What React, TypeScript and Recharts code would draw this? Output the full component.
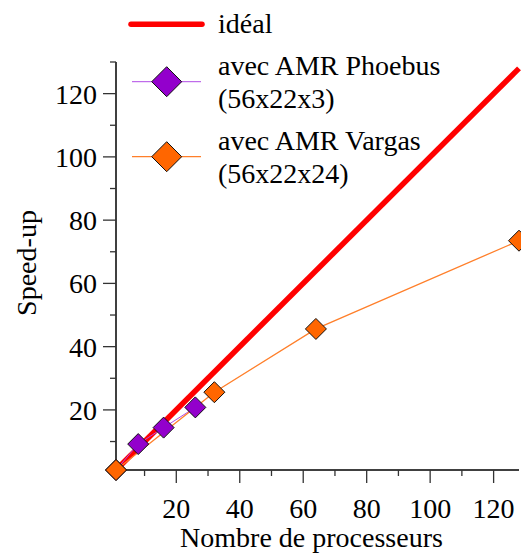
import { LineChart, Line, XAxis, YAxis, Legend } from 'recharts';

const FONT = '"Liberation Serif", "Times New Roman", serif';

// data
const idealProcs = [1, 128];
const idealSpeedup = [1, 128];
const phoebusProcs = [1, 8, 16, 26];
const phoebusSpeedup = [1, 9.2, 14.4, 20.8];
const vargasProcs = [1, 32, 64, 128];
const vargasSpeedup = [1, 25.6, 45.6, 73.5];

const xTicks = [10, 20, 30, 40, 50, 60, 70, 80, 90, 100, 110, 120];
const yTicks = [10, 20, 30, 40, 50, 60, 70, 80, 90, 100, 110, 120, 130];

const seriesLabels = [
  ['idéal'],
  ['avec AMR Phoebus', '(56x22x3)'],
  ['avec AMR Vargas', '(56x22x24)'],
];

const RED = '#ff0000';
const PURPLE = '#9300cc';
const PURPLE_LINE = '#b14be6';
const ORANGE = '#ff6600';
const ORANGE_LINE = '#ff7f2a';

const toPoints = (xs: number[], ys: number[]) => xs.map((x, i) => ({ x, y: ys[i] }));

const idealData = toPoints(idealProcs, idealSpeedup);
const phoebusData = toPoints(phoebusProcs, phoebusSpeedup);
const vargasData = toPoints(vargasProcs, vargasSpeedup);

const diamond = (cx: number, cy: number, r: number) =>
  `${cx},${cy - r} ${cx + r},${cy} ${cx},${cy + r} ${cx - r},${cy}`;

const makeDot = (fill: string) => (props: any) => {
  const { cx, cy, index } = props;
  if (cx == null || cy == null) return <g key={index} />;
  return (
    <polygon
      key={index}
      points={diamond(cx, cy, 10.5)}
      fill={fill}
      stroke="#111"
      strokeWidth={1}
    />
  );
};

const XTick = (props: any) => {
  const { x, y, payload } = props;
  const major = payload.value % 20 === 0;
  return (
    <g>
      <line x1={x} y1={y} x2={x} y2={y + (major ? 13 : 6)} stroke="#333" strokeWidth={1.3} />
      {major && (
        <text x={x} y={y + 48} textAnchor="middle" fontSize={28} fontFamily={FONT} fill="#000">
          {payload.value}
        </text>
      )}
    </g>
  );
};

const YTick = (props: any) => {
  const { x, y, payload } = props;
  const major = payload.value % 20 === 0;
  return (
    <g>
      <line x1={x} y1={y} x2={x - (major ? 13 : 6)} y2={y} stroke="#333" strokeWidth={1.3} />
      {major && (
        <text x={x - 19} y={y + 10} textAnchor="end" fontSize={28} fontFamily={FONT} fill="#000">
          {payload.value}
        </text>
      )}
    </g>
  );
};

const renderLegend = () => (
  <svg width={521} height={200} style={{ display: 'block' }}>
    <line x1={131} y1={24.3} x2={202} y2={24.3} stroke={RED} strokeWidth={5.5} strokeLinecap="round" />
    <text x={218} y={33} fontSize={28} fontFamily={FONT} fill="#000">
      {seriesLabels[0][0]}
    </text>

    <line x1={132} y1={81.7} x2={201} y2={81.7} stroke={PURPLE_LINE} strokeWidth={1} />
    <polygon points={diamond(166.7, 81.7, 15)} fill={PURPLE} stroke="#111" strokeWidth={1} />
    <text x={218} y={75} fontSize={28} fontFamily={FONT} fill="#000">
      {seriesLabels[1][0]}
    </text>
    <text x={218} y={107.7} fontSize={28} fontFamily={FONT} fill="#000">
      {seriesLabels[1][1]}
    </text>

    <line x1={132} y1={156.7} x2={201} y2={156.7} stroke={ORANGE_LINE} strokeWidth={1.2} />
    <polygon points={diamond(166.7, 156.7, 15)} fill={ORANGE} stroke="#111" strokeWidth={1} />
    <text x={218} y={150} fontSize={28} fontFamily={FONT} fill="#000">
      {seriesLabels[2][0]}
    </text>
    <text x={218} y={183.3} fontSize={28} fontFamily={FONT} fill="#000">
      {seriesLabels[2][1]}
    </text>
  </svg>
);

export default function App() {
  return (
    <div style={{ position: 'absolute', left: 0, top: 0, width: 521, height: 554, background: '#fff' }}>
      <LineChart width={521} height={554} margin={{ top: 62, right: 2, bottom: 0, left: 0 }}>
        <XAxis
          type="number"
          dataKey="x"
          domain={[1, 128]}
          ticks={xTicks}
          interval={0}
          height={84}
          tickSize={0}
          tickMargin={0}
          tickLine={false}
          tick={<XTick />}
          axisLine={{ stroke: '#000', strokeWidth: 1.5 }}
          label={{
            content: (p: any) => {
              const vb = p.viewBox;
              return (
                <text
                  x={vb.x + vb.width / 2 - 6}
                  y={547}
                  textAnchor="middle"
                  fontSize={28}
                  fontFamily={FONT}
                  fill="#000"
                >
                  Nombre de processeurs
                </text>
              );
            },
          }}
        />
        <YAxis
          type="number"
          dataKey="y"
          domain={[1, 130]}
          ticks={yTicks}
          interval={0}
          width={116}
          tickSize={0}
          tickMargin={0}
          tickLine={false}
          tick={<YTick />}
          axisLine={{ stroke: '#000', strokeWidth: 1.5 }}
          label={{
            content: (p: any) => {
              const vb = p.viewBox;
              const cy = vb.y + vb.height / 2 - 3;
              return (
                <text
                  x={36}
                  y={cy}
                  transform={`rotate(-90, 36, ${cy})`}
                  textAnchor="middle"
                  fontSize={28}
                  fontFamily={FONT}
                  fill="#000"
                >
                  Speed-up
                </text>
              );
            },
          }}
        />
        <Legend
          verticalAlign="middle"
          align="center"
          layout="horizontal"
          wrapperStyle={{ top: 0, left: 0, width: 521, height: 200 }}
          content={renderLegend}
        />
        <Line
          data={idealData}
          dataKey="y"
          name="idéal"
          stroke={RED}
          strokeWidth={5.5}
          dot={false}
          activeDot={false}
          isAnimationActive={false}
        />
        <Line
          data={phoebusData}
          dataKey="y"
          name="avec AMR Phoebus (56x22x3)"
          stroke={PURPLE_LINE}
          strokeWidth={1}
          dot={makeDot(PURPLE)}
          activeDot={false}
          isAnimationActive={false}
        />
        <Line
          data={vargasData}
          dataKey="y"
          name="avec AMR Vargas (56x22x24)"
          stroke={ORANGE_LINE}
          strokeWidth={1.3}
          dot={makeDot(ORANGE)}
          activeDot={false}
          isAnimationActive={false}
        />
      </LineChart>
    </div>
  );
}
